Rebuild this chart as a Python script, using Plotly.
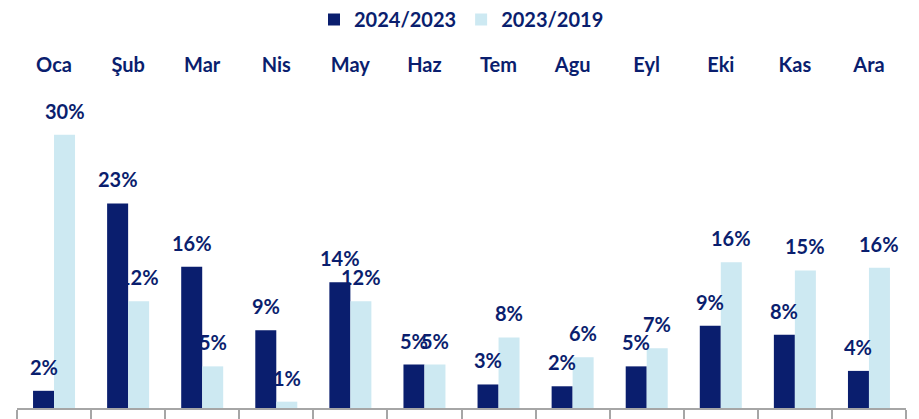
import plotly.graph_objects as go

# Monthly change, percent
months = ["Oca", "Şub", "Mar", "Nis", "May", "Haz", "Tem", "Agu", "Eyl", "Eki", "Kas", "Ara"]
series_2024_2023 = [1.9, 22.6, 15.6, 8.6, 13.9, 4.8, 2.6, 2.4, 4.6, 9.1, 8.1, 4.1]
series_2023_2019 = [30.2, 11.8, 4.6, 0.7, 11.8, 4.8, 7.8, 5.6, 6.6, 16.1, 15.2, 15.5]

NAVY = "#0a1e6e"
LIGHT = "#cde9f2"
AXIS_GREY = "#a6a6a6"
FONT = dict(family="Lato", size=20, color=NAVY, weight=700)

W, H = 919, 419
margin = dict(l=17, r=13, t=80, b=11)
bargap = 0.433
px_per_unit = 9.05

plot_w = W - margin["l"] - margin["r"]
plot_h = H - margin["t"] - margin["b"]
bar_w = plot_w / len(months) * (1 - bargap) / 2
y_max = plot_h / px_per_unit
x_range = [-0.5, len(months) - 0.5]

fig = go.Figure()
fig.add_trace(go.Bar(name="2024/2023", x=months, y=series_2024_2023,
                     marker=dict(color=NAVY, line=dict(width=0)), hoverinfo="skip"))
fig.add_trace(go.Bar(name="2023/2019", x=months, y=series_2023_2019,
                     marker=dict(color=LIGHT, line=dict(width=0)), hoverinfo="skip"))
# carrier trace for the month labels along the top axis
fig.add_trace(go.Scatter(x=months, y=[0] * len(months), xaxis="x2", mode="markers",
                         marker=dict(opacity=0), showlegend=False, hoverinfo="skip"))

annotations = []
for vals, sign in ((series_2024_2023, -1), (series_2023_2019, 1)):
    for m, v in zip(months, vals):
        annotations.append(dict(
            x=m, y=v, xref="x", yref="y", text=f"{v:.0f}%", showarrow=False,
            xanchor="center", yanchor="bottom", xshift=sign * bar_w / 2, yshift=10,
            font=FONT,
        ))

fig.update_layout(
    width=W, height=H, margin=dict(margin, autoexpand=False),
    paper_bgcolor="white", plot_bgcolor="white",
    barmode="group", bargap=bargap, bargroupgap=0,
    font=FONT,
    showlegend=True,
    legend=dict(orientation="h", x=0.5, xanchor="center", y=1, yref="container",
                yanchor="top", font=FONT, itemwidth=30, traceorder="normal"),
    xaxis=dict(type="category", categoryorder="array", categoryarray=months,
               range=x_range,
               showline=True, linecolor=AXIS_GREY, linewidth=1.5,
               ticks="outside", tickson="boundaries", ticklen=12, tickcolor=AXIS_GREY,
               tickwidth=1.5, showticklabels=False, showgrid=False, zeroline=False,
               automargin=False, fixedrange=True),
    xaxis2=dict(type="category", categoryorder="array", categoryarray=months,
                range=x_range,
                overlaying="x", side="top", anchor="y",
                showline=False, ticks="", showgrid=False, zeroline=False,
                tickfont=FONT, ticklabelstandoff=3, automargin=False),
    yaxis=dict(range=[0, y_max], visible=False, showgrid=False, zeroline=False,
               automargin=False),
    annotations=annotations,
)

fig.write_html("out.html")
